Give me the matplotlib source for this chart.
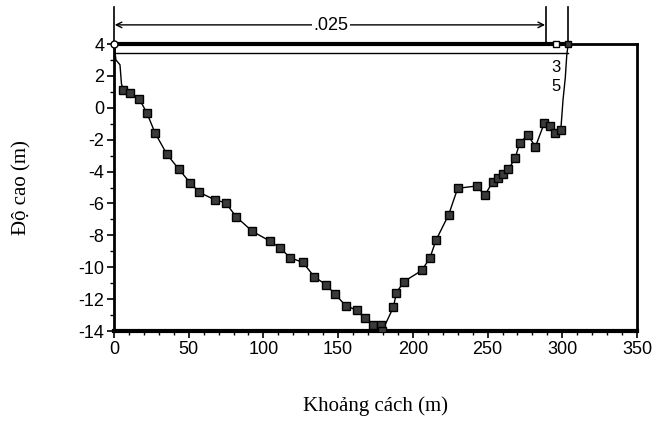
import matplotlib
matplotlib.use("Agg")
import matplotlib.pyplot as plt
from matplotlib.ticker import MultipleLocator

plt.rcParams['axes.unicode_minus'] = False

# mat cat ngang (khoang cach, do cao)
khoang_cach = [0, 1.3, 4, 5, 6.2, 10.7, 16.9, 21.9, 27.4, 35.3, 43.5, 50.9, 57.1,
               67.6, 74.7, 81.7, 92.6, 104.4, 111.1, 117.8, 126.5, 134, 142, 148,
               155, 162.5, 168, 173, 178.5, 179.5, 187, 189, 194, 206, 211.5, 215.5,
               224, 230, 243, 248, 253.5, 257, 260, 264, 268.5, 271.5, 277, 282,
               288, 292, 295, 299, 300.5, 302, 303, 304]
do_cao = [4, 3.0, 2.7, 1.5, 1.12, 0.95, 0.55, -0.3, -1.56, -2.9, -3.86, -4.7, -5.3,
          -5.78, -5.95, -6.83, -7.75, -8.36, -8.78, -9.4, -9.7, -10.6, -11.1, -11.7,
          -12.4, -12.7, -13.2, -13.6, -13.65, -14.0, -12.5, -11.6, -10.9, -10.2, -9.4,
          -8.3, -6.7, -5.05, -4.9, -5.5, -4.65, -4.4, -4.15, -3.85, -3.15, -2.2,
          -1.7, -2.45, -0.95, -1.15, -1.6, -1.4, 0.5, 1.87, 3.3, 4.05]
# diem co ky hieu
diem_do = [i for i in range(len(khoang_cach)) if 4 <= i <= 51]

muc_nuoc = 4.0
muc_duoi = 3.45
be_rong = ".025"

fig = plt.figure(figsize=(6.54, 4.22), dpi=100)
ax = fig.add_axes([0.1743, 0.2156, 0.7997, 0.6801])

ax.plot(khoang_cach, do_cao, color='black', lw=1.0, marker='s', markersize=5.2,
        mfc='#3a3a3a', mec='black', mew=1.0, markevery=diem_do, zorder=4)

# duong muc nuoc
ax.plot([0, 304], [muc_nuoc, muc_nuoc], color='black', lw=3.0, zorder=3, clip_on=False)
ax.plot([0, 304], [muc_duoi, muc_duoi], color='black', lw=1.0, zorder=3, clip_on=False)
ax.plot([0], [muc_nuoc], marker='o', markersize=5, mfc='white', mec='black', clip_on=False, zorder=5)
ax.plot([296], [muc_nuoc], marker='s', markersize=5, mfc='white', mec='black', clip_on=False, zorder=5)
ax.plot([304], [muc_nuoc], marker='s', markersize=5, mfc='#3a3a3a', mec='black', clip_on=False, zorder=5)

# kich thuoc be rong
for xv in [0, 289, 304]:
    ax.plot([xv, xv], [muc_nuoc, 6.3], color='black', lw=1.2, clip_on=False)
ax.annotate('', xy=(0.5, 5.2), xytext=(288.5, 5.2), xycoords='data',
            arrowprops=dict(arrowstyle='<->', lw=1.0, color='black',
                            shrinkA=0, shrinkB=0), annotation_clip=False)
ax.text(145, 5.15, be_rong, ha='center', va='center', fontsize=13,
        family='Liberation Sans', bbox=dict(fc='white', ec='none', pad=1))
ax.text(295.5, 2.5, "3", ha='center', va='center', fontsize=12, family='Liberation Sans')
ax.text(295.5, 1.35, "5", ha='center', va='center', fontsize=12, family='Liberation Sans')

ax.set_xlim(0, 350)
ax.set_ylim(-14, 4)
ax.set_xticks(range(0, 351, 50))
ax.set_yticks(range(-14, 5, 2))
ax.xaxis.set_minor_locator(MultipleLocator(10))
ax.yaxis.set_minor_locator(MultipleLocator(1))
ax.tick_params(which='major', direction='out', length=5, width=1.2, labelsize=13, pad=2)
ax.tick_params(which='minor', direction='out', length=3, width=1.0)
for lab in ax.get_xticklabels() + ax.get_yticklabels():
    lab.set_family('Liberation Sans')

for s in ax.spines.values():
    s.set_linewidth(2.0)
ax.spines['bottom'].set_linewidth(3.0)

ax.set_xlabel("Khoảng cách (m)", family='Liberation Serif', fontsize=15, labelpad=28)
ax.set_ylabel("Độ cao (m)", family='Liberation Serif', fontsize=15, labelpad=34)

fig.savefig("out.png", dpi=100)
